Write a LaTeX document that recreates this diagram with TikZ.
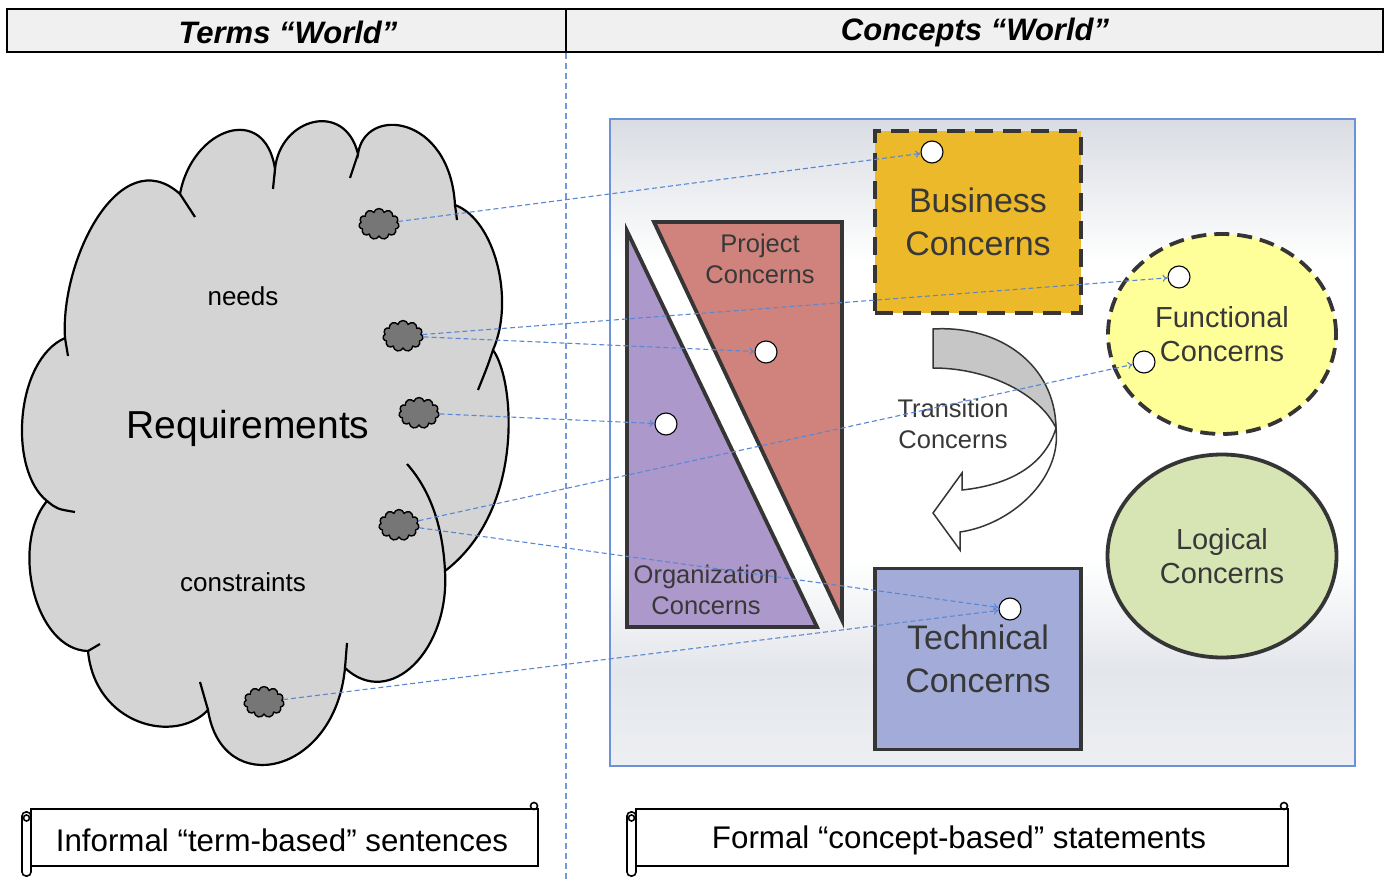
\documentclass[tikz,border=0pt]{standalone}
\usepackage{fontspec}
\setmainfont{Liberation Sans}
\usetikzlibrary{positioning,shapes.geometric,shapes.symbols,arrows.meta}

\definecolor{linkblue}{HTML}{5B87D2}
\definecolor{cloudgray}{HTML}{D4D4D4}
\definecolor{seedgray}{HTML}{767676}
\definecolor{edgegray}{HTML}{353535}
\definecolor{bizgold}{HTML}{ECB92B}
\definecolor{funyellow}{HTML}{FFFF99}
\definecolor{loggreen}{HTML}{D7E4B4}
\definecolor{techblue}{HTML}{A3ACD9}
\definecolor{projred}{HTML}{CF837C}
\definecolor{orgviolet}{HTML}{AD98CB}
\definecolor{headgray}{HTML}{F0F0F0}
\definecolor{paneltop}{HTML}{D9DCE2}
\definecolor{panelbot}{HTML}{E3E6EB}
\definecolor{panelend}{HTML}{EDEFF2}
\definecolor{txtgray}{HTML}{383838}
\definecolor{ribbongray}{HTML}{C6C6C6}

\tikzset{
  seed/.style={cloud, cloud puffs=11, aspect=1.3, draw=black, line width=1.4pt,
    fill=seedgray, minimum width=40pt, minimum height=31pt, inner sep=0pt},
  spot/.style={circle, draw=black, line width=1.1pt, fill=white,
    minimum size=22pt, inner sep=0pt},
  link/.style={draw=linkblue, line width=1.1pt, dash pattern=on 5pt off 3pt,
    -{To[length=5pt,width=7pt]}},
  concern/.style={line width=3.8pt, draw=edgegray},
  bigtext/.style={text=txtgray, align=center, font=\fontsize{34}{43}\selectfont},
  midtext/.style={text=txtgray, align=center, font=\fontsize{29}{34}\selectfont},
  smalltext/.style={text=txtgray, align=center, font=\fontsize{25.5}{31}\selectfont},
  scrollline/.style={draw=black, line width=1.6pt},
  headtext/.style={font=\bfseries\itshape\fontsize{31}{36}\selectfont},
  notetext/.style={font=\fontsize{31.3}{36}\selectfont},
}

\begin{document}
\begin{tikzpicture}[x=1pt, y=-1pt]
  \useasboundingbox (0,0) rectangle (1392,882);

  % header bar
  \draw[line width=2pt, fill=headgray] (7,9) rectangle (1383,52);
  \draw[line width=2pt] (566,9) -- (566,52);
  \node[headtext] (termshead) at (288,32) {Terms “World”};
  \node[headtext] (concepthead) at (975,32) {Concepts “World”};
  \draw[linkblue!85, line width=1.2pt, dash pattern=on 6pt off 4pt] (566,53) -- (566,882);

  % big requirements cloud
  \draw[line width=2.2pt, fill=cloudgray]
    (65,338) .. controls (60,260) and (120,140) .. (180,194)
    .. controls (192,128) and (265,102) .. (275,169)
    .. controls (280,118) and (345,100) .. (358,154)
    .. controls (365,105) and (450,115) .. (455,205)
    .. controls (495,220) and (515,300) .. (493,350)
    .. controls (515,380) and (525,510) .. (445,571)
    .. controls (450,650) and (390,710) .. (345,668)
    .. controls (335,775) and (222,800) .. (208,710)
    .. controls (175,745) and (95,725) .. (88,651)
    .. controls (35,650) and (10,545) .. (47,501)
    .. controls (8,470) and (15,360) .. (65,338) -- cycle;
  \begin{scope}[line width=2.2pt]
    \draw (65,338) -- (68,356);
    \draw (180,194) -- (195,217);
    \draw (275,169) -- (273,189);
    \draw (358,154) -- (350,178);
    \draw (455,205) -- (457,220);
    \draw (493,350) .. controls (488,365) .. (478,390);
    \draw (407,464) .. controls (432,492) and (443,530) .. (445,571);
    \draw (345,668) -- (347,643);
    \draw (208,710) -- (200,682);
    \draw (88,651) -- (100,644);
    \draw (47,501) .. controls (57,509) .. (75,512);
  \end{scope}
  \node[font=\fontsize{39}{47}\selectfont] (req) at (248,428) {Requirements};
  \node[font=\fontsize{26}{31}\selectfont] (needs) at (243,296) {needs};
  \node[font=\fontsize{26}{31}\selectfont] (constr) at (243,582) {constraints};

  % small seeds in the cloud
  \node[seed] (n1) at (379,224) {};
  \node[seed] (n2) at (403,336) {};
  \node[seed] (n3) at (419,413) {};
  \node[seed] (n4) at (399,525) {};
  \node[seed] (n5) at (264,702) {};

  % concepts panel
  \shade[top color=paneltop, bottom color=white] (610,119) rectangle (1355,262);
  \fill[white] (610,262) rectangle (1355,560);
  \shade[top color=white, bottom color=panelbot] (610,560) rectangle (1355,670);
  \shade[top color=panelbot, bottom color=panelend] (610,670) rectangle (1355,766);
  \draw[linkblue!90, line width=1.3pt] (610,119) rectangle (1355,766);

  \draw[concern, fill=projred] (654,222) -- (842,222) -- (842,620) -- cycle;
  \draw[concern, fill=orgviolet] (627,231) -- (627,627) -- (817,627) -- cycle;
  \node[smalltext] (project) at (760,259) {Project\\Concerns};
  \node[smalltext] (organization) at (706,590) {Organization\\Concerns};

  \node[rectangle, concern, fill=bizgold, dash pattern=on 18pt off 10pt,
    minimum width=206pt, minimum height=182pt, bigtext] (business) at (978,222) {Business\\Concerns};
  \node[rectangle, concern, fill=techblue,
    minimum width=206pt, minimum height=181pt, bigtext] (technical) at (978,659) {Technical\\Concerns};
  \node[ellipse, concern, fill=funyellow, dash pattern=on 15pt off 8pt,
    minimum width=228pt, minimum height=200pt, midtext] (functional) at (1222,334) {Functional\\Concerns};
  \node[ellipse, concern, fill=loggreen,
    minimum width=229pt, minimum height=203pt, midtext] (logical) at (1222,556) {Logical\\Concerns};

  % transition ribbon
  \draw[draw=edgegray, line width=1.5pt, fill=ribbongray]
    (933,329) .. controls (1000,325) and (1055,365) .. (1056,428)
    .. controls (1040,395) and (990,368) .. (933,368) -- cycle;
  \draw[draw=edgegray, line width=1.5pt, fill=white]
    (1056,428) .. controls (1062,480) and (1010,525) .. (960,532)
    -- (960,550) -- (933,513) -- (962,473) -- (962,490)
    .. controls (1010,485) and (1045,465) .. (1056,428) -- cycle;
  \node[smalltext] (transition) at (953,424) {Transition\\Concerns};

  % anchor spots
  \node[spot] (p1) at (932,152) {};
  \node[spot] (p2) at (1179,277) {};
  \node[spot] (p3) at (1144,362) {};
  \node[spot] (p4) at (766,352) {};
  \node[spot] (p5) at (666,424) {};
  \node[spot] (p6) at (1010,609) {};

  % links from terms to concepts
  \draw[link] (n1) -- (p1);
  \draw[link] (n2) -- (p2);
  \draw[link] (n2) -- (p4);
  \draw[link] (n3) -- (p5);
  \draw[link] (n4) -- (p3);
  \draw[link] (n4) -- (p6);
  \draw[link] (n5) -- (p6);

  % scrolls
  \draw[scrollline, fill=white] (31,809) rectangle (538,866);
  \draw[scrollline, fill=white, rounded corners=4pt] (22,812) rectangle (31,876);
  \draw[scrollline] (26.5,818) circle (3pt);
  \draw[scrollline] (534,806) circle (3.5pt);
  \node[notetext] (informal) at (282,840) {Informal “term-based” sentences};

  \draw[scrollline, fill=white] (636,809) rectangle (1288,866);
  \draw[scrollline, fill=white, rounded corners=4pt] (627,812) rectangle (636,876);
  \draw[scrollline] (631.5,818) circle (3pt);
  \draw[scrollline] (1284,806) circle (3.5pt);
  \node[notetext] (formal) at (959,840) {Formal “concept-based” statements};
\end{tikzpicture}
\end{document}
